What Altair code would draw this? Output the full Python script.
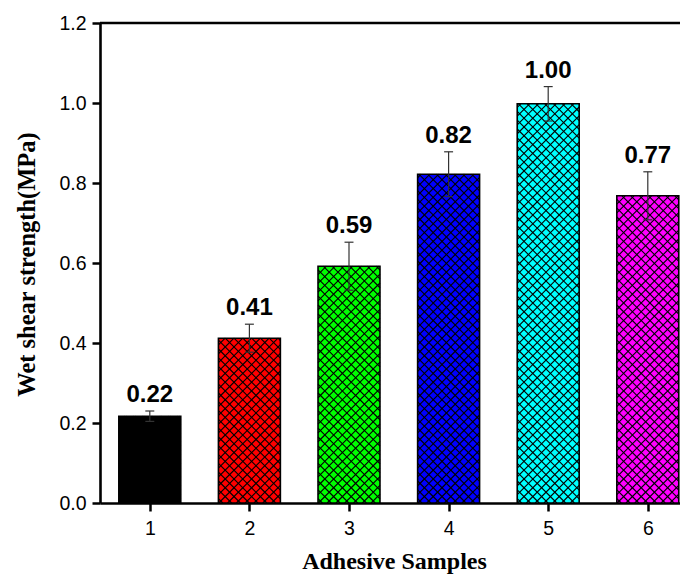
import altair as alt
import numpy as np
import pandas as pd

# ---- data ----
samples = [1, 2, 3, 4, 5, 6]
strength = [0.217, 0.412, 0.592, 0.822, 0.998, 0.768]
errors = [0.013, 0.035, 0.060, 0.056, 0.043, 0.060]
value_labels = ["0.22", "0.41", "0.59", "0.82", "1.00", "0.77"]
bar_colors = ["#000000", "#FF0000", "#00FF00", "#0000FF", "#00FFFF", "#FF00FF"]
y_ticks = [0.0, 0.2, 0.4, 0.6, 0.8, 1.0, 1.2]

# ---- layout / scale geometry ----
W, H = 580, 480
X0 = 0.5
XS = 99.6                      # px per sample unit
X1 = X0 + W / XS
Y0, Y1 = 0.0, 1.2
YS = H / (Y1 - Y0)
HALF = 0.311                   # half bar width in sample units
PERIOD = 8.8                   # hatch period in px

df = pd.DataFrame({
    "sample": samples,
    "value": strength,
    "err": errors,
    "label": value_labels,
    "color": bar_colors,
})
df["xl"] = df["sample"] - HALF
df["xr"] = df["sample"] + HALF
df["lo"] = df["value"] - df["err"]
df["hi"] = df["value"] + df["err"]
df["capl"] = df["sample"] - 0.045
df["capr"] = df["sample"] + 0.045

# cross-hatch segments clipped to each bar (derived from bar values)
segs = []
for s, v in zip(samples, strength):
    xl = (s - HALF - X0) * XS
    xr = (s + HALF - X0) * XS
    yt = v * YS
    w = xr - xl
    for k in np.arange(-w, yt, PERIOD):
        xa = max(xl, xl - k)
        xb = min(xr, xl - k + yt)
        if xb - xa > 0.5:
            segs.append((xa, xa - xl + k, xb, xb - xl + k))
    for k in np.arange(PERIOD / 2, w + yt, PERIOD):
        xa = max(xl, xl + k - yt)
        xb = min(xr, xl + k)
        if xb - xa > 0.5:
            segs.append((xa, k - (xa - xl), xb, k - (xb - xl)))
hatch = pd.DataFrame(segs, columns=["xa", "ya", "xb", "yb"])
hatch["xa"] = hatch["xa"] / XS + X0
hatch["xb"] = hatch["xb"] / XS + X0
hatch["ya"] = hatch["ya"] / YS
hatch["yb"] = hatch["yb"] / YS

xscale = alt.Scale(domain=[X0, X1], nice=False, zero=False)
yscale = alt.Scale(domain=[Y0, Y1], nice=False)

xaxis = alt.Axis(
    values=samples, format="d", title="Adhesive Samples", grid=False,
    domainWidth=2.6, domainColor="black", tickWidth=2.5, tickSize=8, tickColor="black",
    labelFont="Liberation Sans", labelFontSize=19.5, labelColor="black", labelPadding=8,
    titleFont="Liberation Serif", titleFontSize=24, titleFontWeight="bold", titleColor="black",
    titleX=294, titleY=65, titleBaseline="alphabetic", titleAlign="center",
)
yaxis = alt.Axis(
    values=y_ticks, format=".1f", title="Wet shear strength(MPa)", grid=False,
    domainWidth=2.6, domainColor="black", tickWidth=2.5, tickSize=8, tickColor="black",
    labelFont="Liberation Sans", labelFontSize=19.5, labelColor="black", labelPadding=6,
    titleFont="Liberation Serif", titleFontSize=24.5, titleFontWeight="bold", titleColor="black",
    titleX=-73, titleY=241, titleAngle=270, titleAlign="center", titleBaseline="middle",
)

base = alt.Chart(df)

bars = base.mark_bar(stroke=None).encode(
    x=alt.X("xl:Q", scale=xscale, axis=xaxis),
    x2="xr:Q",
    y=alt.Y("value:Q", scale=yscale, axis=yaxis),
    y2=alt.datum(0),
    fill=alt.Fill("color:N", scale=None),
)

hatch_layer = alt.Chart(hatch).mark_rule(color="black", strokeWidth=1.1).encode(
    x=alt.X("xa:Q", scale=xscale),
    x2="xb:Q",
    y=alt.Y("ya:Q", scale=yscale),
    y2="yb:Q",
)

outline = base.mark_bar(fillOpacity=0, stroke="black", strokeWidth=1.6).encode(
    x=alt.X("xl:Q", scale=xscale),
    x2="xr:Q",
    y=alt.Y("value:Q", scale=yscale),
    y2=alt.datum(0),
)

err_v = base.mark_rule(color="#333333", strokeWidth=1.2).encode(
    x=alt.X("sample:Q", scale=xscale),
    y=alt.Y("lo:Q", scale=yscale),
    y2="hi:Q",
)
cap_hi = base.mark_rule(color="#333333", strokeWidth=1.2).encode(
    x=alt.X("capl:Q", scale=xscale), x2="capr:Q",
    y=alt.Y("hi:Q", scale=yscale),
)
cap_lo = base.mark_rule(color="#333333", strokeWidth=1.2).encode(
    x=alt.X("capl:Q", scale=xscale), x2="capr:Q",
    y=alt.Y("lo:Q", scale=yscale),
)

labels = base.mark_text(
    font="Liberation Sans", fontSize=24, fontWeight="bold", color="black",
    baseline="alphabetic", align="center", dy=-9,
).encode(
    x=alt.X("sample:Q", scale=xscale),
    y=alt.Y("hi:Q", scale=yscale),
    text="label:N",
)

top_line = alt.Chart(pd.DataFrame({"y": [Y1], "a": [X0], "b": [X1]})).mark_rule(
    color="black", strokeWidth=2.6
).encode(
    x=alt.X("a:Q", scale=xscale), x2="b:Q",
    y=alt.Y("y:Q", scale=yscale),
)

chart = alt.layer(bars, hatch_layer, outline, err_v, cap_hi, cap_lo, labels, top_line).properties(
    width=W, height=H,
    autosize=alt.AutoSizeParams(type="none"),
    padding={"left": 92, "top": 15, "right": 0, "bottom": 75},
).configure_view(stroke=None).configure(background="white")

chart.save("out.html", embed_options={"renderer": "svg", "actions": False})
